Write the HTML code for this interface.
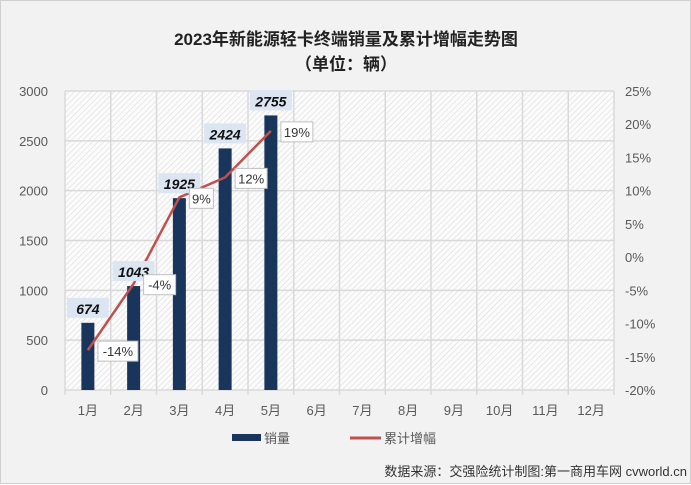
<!DOCTYPE html>
<html><head><meta charset="utf-8"><style>
body{margin:0;background:#fff;}
#c{position:relative;width:691px;height:484px;background:#f2f2f2;border:1px solid #d0d0d0;box-sizing:border-box;font-family:"Liberation Sans","Noto Sans CJK SC",sans-serif;}
</style></head><body>
<div id="c">
<svg id="s" width="691" height="484" style="position:absolute;left:0;top:0" font-family="Liberation Sans, Noto Sans CJK SC, sans-serif">
<defs><pattern id="h" width="4" height="4" patternUnits="userSpaceOnUse" patternTransform="rotate(45)"><rect width="4" height="4" fill="#fbfbfb"/><line x1="0" y1="0" x2="0" y2="4" stroke="#d8d8d8" stroke-width="1"/></pattern></defs>
<text x="345" y="44" text-anchor="middle" font-size="17" font-weight="bold" fill="#222">2023年新能源轻卡终端销量及累计增幅走势图</text>
<text x="345" y="69" text-anchor="middle" font-size="17" font-weight="bold" fill="#222">（单位：辆）</text>
<g id="g"></g>
</svg>
</div>
<script>
const categories=["1月","2月","3月","4月","5月","6月","7月","8月","9月","10月","11月","12月"];
const sales=[674,1043,1925,2424,2755];
const growth=[-14,-4,9,12,19];
const leftTicks=[0,500,1000,1500,2000,2500,3000];
const rightTicks=[-20,-15,-10,-5,0,5,10,15,20,25];
const L=64,R=613,T=90,B=389;
const slot=(R-L)/categories.length;
const xC=i=>L+slot*(i+0.5);
const yL=v=>B-(v/3000)*(B-T);
const yR=v=>B-((v+20)/45)*(B-T);
const g=document.getElementById('g');
const NS='http://www.w3.org/2000/svg';
function mk(t,a,p){const e=document.createElementNS(NS,t);for(const k in a)e.setAttribute(k,a[k]);(p||g).appendChild(e);return e;}
let e=mk('rect',{x:L,y:T,width:R-L,height:B-T,fill:'url(#h)'});


leftTicks.forEach(v=>{
 let l=mk('line',{x1:L,x2:R,y1:yL(v),y2:yL(v),stroke:'#d9d9d9','stroke-width':1.5});
 
 
 let t=mk('text',{x:L-17,y:yL(v)+5,'text-anchor':'end','font-size':13,fill:'#595959'});t.textContent=v;
 
 
});
for(let i=0;i<=categories.length;i++){
 let l=mk('line',{x1:L+slot*i,x2:L+slot*i,y1:T,y2:B+5,stroke:'#d9d9d9','stroke-width':1.5});
 
 
}
rightTicks.forEach(v=>{
 let t=mk('text',{x:624,y:yR(v)+5,'font-size':13,fill:'#595959'});t.textContent=v+'%';
 
 
});
categories.forEach((c,i)=>{
 let t=mk('text',{x:xC(i),y:414,'text-anchor':'middle','font-size':13,fill:'#595959'});t.textContent=c;
 
 
});
sales.forEach((v,i)=>{
 let r=mk('rect',{x:xC(i)-6.5,y:yL(v),width:13,height:B-yL(v),fill:'#1a355c'});
 
 
});
let d=growth.map((v,i)=>(i?'L':'M')+xC(i)+','+yR(v)).join(' ');
let p=mk('path',{d:d,fill:'none',stroke:'#c0504d','stroke-width':2.5});


sales.forEach((v,i)=>{
 let bg=mk('rect',{x:xC(i)-21,y:yL(v)-25,width:42,height:20,fill:'#dce6f2'});
 
 
 let t=mk('text',{x:xC(i),y:yL(v)-9,'text-anchor':'middle','font-size':14,'font-weight':'bold','font-style':'italic',fill:'#111'});t.textContent=v;
 
 
});
growth.forEach((v,i)=>{
 const s=v+'%';const w=s.length*8+8;
 let bx=mk('rect',{x:xC(i)+10,y:yR(v)-9,width:w,height:20,fill:'#fff',stroke:'#bfbfbf'});
 
 
 let t=mk('text',{x:xC(i)+10+w/2,y:yR(v)+6,'text-anchor':'middle','font-size':13,fill:'#333'});t.textContent=s;
 
 
});
let lg1=mk('rect',{x:231,y:433,width:29,height:7,fill:'#1a355c'});


let lt1=mk('text',{x:263,y:442,'font-size':13,fill:'#595959'});lt1.textContent='销量';


let lg2=mk('line',{x1:349,x2:380,y1:437,y2:437,stroke:'#c0504d','stroke-width':3});


let lt2=mk('text',{x:383,y:442,'font-size':13,fill:'#595959'});lt2.textContent='累计增幅';


let src=mk('text',{x:686,y:475,'text-anchor':'end','font-size':13,fill:'#333'});src.textContent='数据来源：交强险统计制图:第一商用车网 cvworld.cn';


</script>
</body></html>
